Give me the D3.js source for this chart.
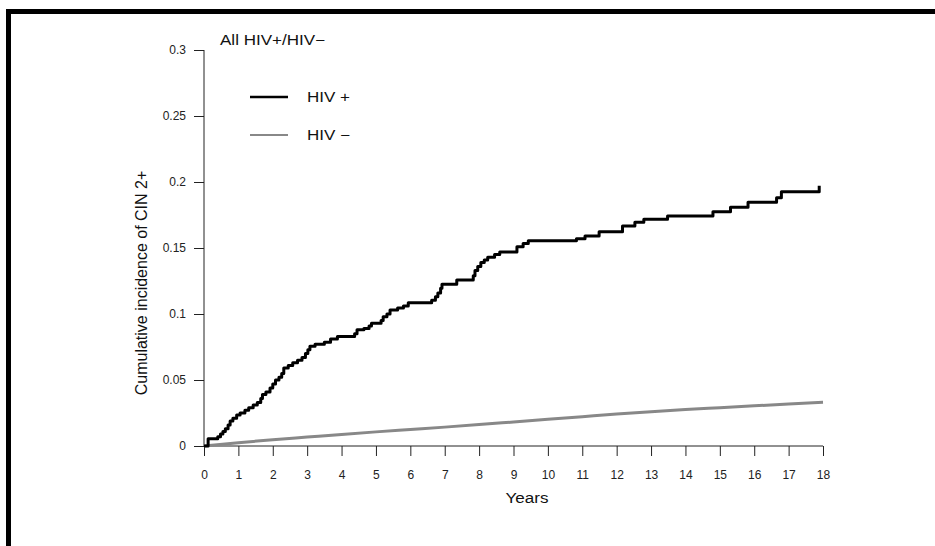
<!DOCTYPE html>
<html><head><meta charset="utf-8">
<script src="https://cdn.jsdelivr.net/npm/d3@7"></script>
<style>
html,body{margin:0;padding:0;background:#fff;}
svg{display:block;font-family:"Liberation Sans",Arial,sans-serif;}
</style></head>
<body>
<script>
// ---- data ----
const title = "All HIV+/HIV\u2212";
const yLabel = "Cumulative incidence of CIN 2+";
const xLabel = "Years";
const seriesNames = ["HIV +", "HIV \u2212"];
const xTicks = [0,1,2,3,4,5,6,7,8,9,10,11,12,13,14,15,16,17,18];
const yTicks = [0,0.05,0.1,0.15,0.2,0.25,0.3];
const yTickLabels = ["0","0.05","0.1","0.15","0.2","0.25","0.3"];

// HIV+ Kaplan-Meier style step curve (event times, cumulative incidence)
const hivPosTimes = [0,0.12,0.40,0.48,0.55,0.62,0.70,0.76,0.84,0.95,1.05,1.19,1.30,1.43,1.55,1.65,1.70,1.80,1.92,2.00,2.08,2.18,2.26,2.32,2.45,2.58,2.72,2.85,2.95,3.02,3.08,3.23,3.50,3.68,3.88,4.38,4.45,4.65,4.80,4.87,5.15,5.21,5.32,5.41,5.63,5.80,5.94,6.62,6.73,6.80,6.88,6.92,7.35,7.83,7.88,7.96,8.05,8.15,8.25,8.45,8.60,9.10,9.28,9.43,10.83,11.08,11.49,12.17,12.53,12.79,13.48,14.80,15.31,15.82,16.65,16.79,17.89];
const hivPosValues = [0,0.0055,0.007,0.009,0.011,0.013,0.016,0.019,0.021,0.0235,0.025,0.027,0.029,0.031,0.033,0.036,0.039,0.041,0.044,0.047,0.050,0.052,0.055,0.059,0.061,0.063,0.065,0.067,0.070,0.073,0.0755,0.077,0.0786,0.081,0.083,0.085,0.088,0.089,0.091,0.093,0.095,0.098,0.100,0.103,0.1045,0.106,0.1085,0.1105,0.113,0.116,0.1195,0.1225,0.1258,0.129,0.133,0.136,0.139,0.141,0.143,0.145,0.147,0.151,0.1535,0.1555,0.157,0.159,0.1624,0.1667,0.1695,0.1717,0.1742,0.1775,0.1808,0.1846,0.1881,0.1927,0.1972];

// HIV- smooth curve
const hivNegTimes = [0,1,2,3,4,5,6,7,8,9,10,11,12,13,14,15,16,17,18];
const hivNegValues = [0,0.0025,0.0048,0.0068,0.0088,0.0107,0.0125,0.0143,0.0162,0.0182,0.0202,0.0222,0.0242,0.026,0.0276,0.029,0.0304,0.0318,0.0332];

// ---- layout ----
const W = 935, H = 546;
const svg = d3.select("body").append("svg").attr("width", W).attr("height", H);

// frame
svg.append("rect").attr("x", 8.5).attr("y", 11.5).attr("width", 940).attr("height", 560)
  .attr("fill", "none").attr("stroke", "#000").attr("stroke-width", 5);

const x = d3.scaleLinear().domain([0, 18]).range([204, 823]);
const y = d3.scaleLinear().domain([0, 0.3]).range([446, 50]);

// y axis
const yAxis = d3.axisLeft(y).tickValues(yTicks).tickSize(10).tickPadding(8)
  .tickFormat((d, i) => yTickLabels[i]);
const gy = svg.append("g").attr("transform", "translate(204,0)").call(yAxis);
gy.select(".domain").attr("d", `M0,${y(0)}V${y(0.3)}`).attr("stroke", "#222");
gy.selectAll(".tick line").attr("stroke", "#222");
gy.selectAll(".tick text").attr("font-size", 12).attr("fill", "#222")
  .attr("font-family", "Liberation Sans, Arial, sans-serif");

// x axis
const xAxis = d3.axisBottom(x).tickValues(xTicks).tickSize(10).tickPadding(14)
  .tickFormat(d3.format("d"));
const gx = svg.append("g").attr("transform", `translate(0,${y(0)})`).call(xAxis);
gx.select(".domain").attr("d", `M${x(0)},0H${x(18)}`).attr("stroke", "#222");
gx.selectAll(".tick line").attr("stroke", "#222");
gx.selectAll(".tick text").attr("font-size", 12).attr("fill", "#222")
  .attr("font-family", "Liberation Sans, Arial, sans-serif");

// curves
const negData = hivNegTimes.map((t, i) => [t, hivNegValues[i]]);
const posData = hivPosTimes.map((t, i) => [t, hivPosValues[i]]);

svg.append("path").datum(negData)
  .attr("d", d3.line().x(d => x(d[0])).y(d => y(d[1])).curve(d3.curveMonotoneX))
  .attr("fill", "none").attr("stroke", "#888").attr("stroke-width", 3);

svg.append("path").datum(posData)
  .attr("d", d3.line().x(d => x(d[0])).y(d => y(d[1])).curve(d3.curveStepAfter))
  .attr("fill", "none").attr("stroke", "#000").attr("stroke-width", 3)
  .attr("stroke-linejoin", "round");

// title
svg.append("text").attr("x", 220).attr("y", 45).attr("font-size", 14)
  .attr("textLength", 105).attr("lengthAdjust", "spacingAndGlyphs")
  .attr("fill", "#111").text(title);

// legend
const legColors = ["#000", "#888"];
const legY = [97, 135];
seriesNames.forEach((n, i) => {
  svg.append("line").attr("x1", 250).attr("x2", 288).attr("y1", legY[i]).attr("y2", legY[i])
    .attr("stroke", legColors[i]).attr("stroke-width", i === 0 ? 2.5 : 2);
  svg.append("text").attr("x", 307).attr("y", legY[i] + 5).attr("font-size", 14)
    .attr("textLength", 43).attr("lengthAdjust", "spacingAndGlyphs")
    .attr("fill", "#111").text(n);
});

// axis titles
svg.append("text").attr("transform", "translate(147,283) rotate(-90)")
  .attr("text-anchor", "middle").attr("font-size", 16).attr("fill", "#111").text(yLabel);
svg.append("text").attr("x", 527).attr("y", 503).attr("text-anchor", "middle")
  .attr("font-size", 14).attr("textLength", 43).attr("lengthAdjust", "spacingAndGlyphs")
  .attr("fill", "#111").text(xLabel);
</script>
</body></html>
